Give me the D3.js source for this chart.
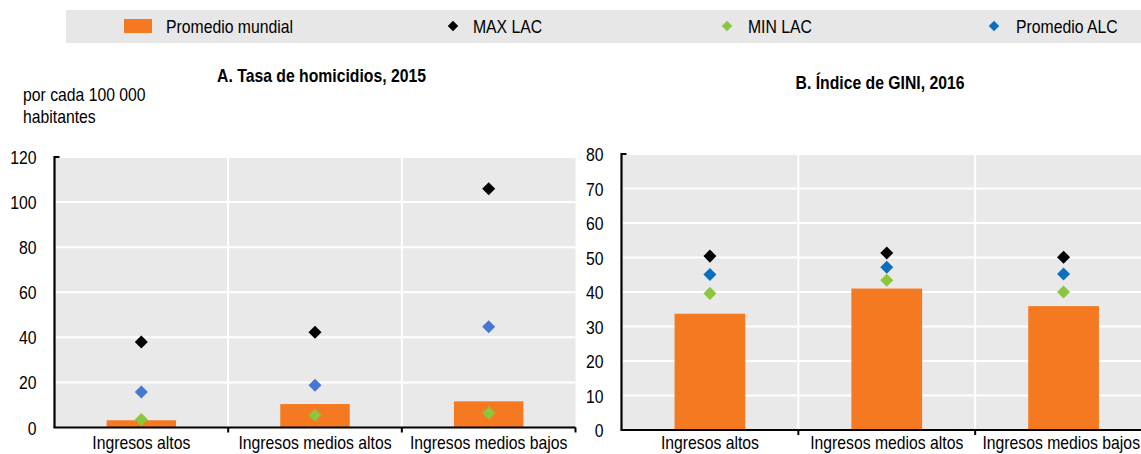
<!DOCTYPE html>
<html>
<head>
<meta charset="utf-8">
<script src="https://cdn.jsdelivr.net/npm/d3@7"></script>
<style>
  html, body { margin: 0; padding: 0; background: #fff; }
  svg { display: block; }
  text { font-family: "Liberation Sans", Arial, sans-serif; fill: #000; }
</style>
</head>
<body>
<script>
// ---- Data ----
const categories = ["Ingresos altos", "Ingresos medios altos", "Ingresos medios bajos"];
const seriesNames = ["Promedio mundial", "MAX LAC", "MIN LAC", "Promedio ALC"];

const homPromMundial = [3.2, 10.4, 11.6];
const homMax = [37.9, 42.3, 105.9];
const homMin = [3.6, 5.4, 6.4];
const homALC = [15.8, 18.7, 44.7];
const homTicks = [0, 20, 40, 60, 80, 100, 120];

const giniPromMundial = [33.7, 41.0, 35.9];
const giniMax = [50.4, 51.3, 50.1];
const giniMin = [39.6, 43.4, 40.0];
const giniALC = [45.1, 47.2, 45.2];
const giniTicks = [0, 10, 20, 30, 40, 50, 60, 70, 80];

const titleA = "A. Tasa de homicidios, 2015";
const titleB = "B. Índice de GINI, 2016";
const unitA = ["por cada 100 000", "habitantes"];

// ---- Styles ----
const W = 1141, H = 454;
const FS = 19, SX = 0.83; // narrow look: horizontally condensed text
const cOrange = "#F47920", cBlack = "#000000", cGreen = "#8CC63F", cBlue = "#0B6FBF", cBlueA = "#4778D0";
const plotBg = "#E9E9E9", legendBg = "#E7E7E7";

const svg = d3.select("body").append("svg").attr("width", W).attr("height", H);

function ntext(parent, x, y, str, anchor, bold) {
  const t = parent.append("text")
    .attr("transform", `translate(${x},${y}) scale(${SX},1)`)
    .attr("text-anchor", anchor || "start")
    .attr("font-size", FS)
    .attr("font-weight", bold ? "bold" : null)
    .text(str);
  if (anchor === "middle") {
    const w = t.node().getComputedTextLength() * SX;
    const over = x + w / 2 - (W - 1);
    if (over > 0) t.attr("transform", `translate(${x - over},${y}) scale(${SX},1)`);
  }
  return t;
}

// ---- Legend ----
svg.append("rect").attr("x", 66).attr("y", 10).attr("width", W - 66).attr("height", 33).attr("fill", legendBg);
const legendItems = [
  { name: seriesNames[0], type: "rect", color: cOrange, mx: 138, tx: 166 },
  { name: seriesNames[1], type: "diamond", color: cBlack, mx: 453, tx: 473 },
  { name: seriesNames[2], type: "diamond", color: cGreen, mx: 727, tx: 748 },
  { name: seriesNames[3], type: "diamond", color: cBlue, mx: 994, tx: 1016 }
];
const lg = svg.append("g");
legendItems.forEach(d => {
  if (d.type === "rect") {
    lg.append("rect").attr("x", d.mx - 14).attr("y", 19).attr("width", 28).attr("height", 14).attr("fill", d.color);
  } else {
    lg.append("rect").attr("x", -3.7).attr("y", -3.7).attr("width", 7.4).attr("height", 7.4)
      .attr("transform", `translate(${d.mx},26) rotate(45)`).attr("fill", d.color);
  }
  ntext(lg, d.tx, 33, d.name);
});

// ---- Panel builder ----
function panel(opts) {
  const { x0, x1, yTop, yBot, domainMax, ticks, bars, maxV, minV, alcV, alcColor, labelY } = opts;
  const g = svg.append("g");
  const x = d3.scaleBand().domain(categories).range([x0, x1]).paddingInner(0).paddingOuter(0);
  const y = d3.scaleLinear().domain([0, domainMax]).range([yBot, yTop]);

  g.append("rect").attr("x", x0).attr("y", yTop).attr("width", x1 - x0).attr("height", yBot - yTop).attr("fill", plotBg);

  g.selectAll(".hg").data(ticks.filter(t => t > 0)).join("line")
    .attr("x1", x0).attr("x2", x1).attr("y1", d => y(d)).attr("y2", d => y(d))
    .attr("stroke", "#fff").attr("stroke-width", 2);
  g.selectAll(".vg").data(categories.slice(1)).join("line")
    .attr("x1", d => x(d)).attr("x2", d => x(d)).attr("y1", yTop).attr("y2", yBot)
    .attr("stroke", "#fff").attr("stroke-width", 2);

  const bw = x.bandwidth() * 0.4;
  g.selectAll(".bar").data(bars).join("rect")
    .attr("x", (d, i) => x(categories[i]) + x.bandwidth() / 2 - bw / 2)
    .attr("width", bw)
    .attr("y", d => y(d))
    .attr("height", d => y(0) - y(d))
    .attr("fill", cOrange);

  const side = 9.2;
  function diamonds(vals, color) {
    g.selectAll(null).data(vals).join("rect")
      .attr("x", -side / 2).attr("y", -side / 2).attr("width", side).attr("height", side)
      .attr("transform", (d, i) => `translate(${x(categories[i]) + x.bandwidth() / 2},${y(d)}) rotate(45)`)
      .attr("fill", color);
  }
  diamonds(maxV, cBlack);
  diamonds(alcV, alcColor);
  diamonds(minV, cGreen);

  const ya = d3.axisLeft(y).tickValues(ticks).tickSize(0).tickPadding(18).tickFormat(d3.format("d"));
  const yg = g.append("g").attr("transform", `translate(${x0},0)`).call(ya);
  yg.select(".domain").remove();
  yg.selectAll(".tick text")
    .attr("font-size", FS).attr("font-family", null).attr("fill", "#000")
    .attr("x", null).attr("dy", null)
    .attr("transform", `translate(-18,6.5) scale(${SX},1)`);

  g.append("line").attr("x1", x0).attr("x2", x0).attr("y1", yTop - 1).attr("y2", yBot)
    .attr("stroke", "#000").attr("stroke-width", 2.2);
  g.append("line").attr("x1", x0).attr("x2", x0 + 5).attr("y1", yTop).attr("y2", yTop)
    .attr("stroke", "#000").attr("stroke-width", 2);
  g.append("line").attr("x1", x0 - 1).attr("x2", x1).attr("y1", yBot).attr("y2", yBot)
    .attr("stroke", "#000").attr("stroke-width", 2.2);
  const sepPos = categories.slice(1).map(c => x(c)).concat([x1]);
  g.selectAll(".xt").data(sepPos).join("line")
    .attr("x1", d => d).attr("x2", d => d).attr("y1", yBot).attr("y2", yBot + 5)
    .attr("stroke", "#000").attr("stroke-width", 2);

  categories.forEach(c => ntext(g, x(c) + x.bandwidth() / 2, labelY, c, "middle"));
  return g;
}

panel({ x0: 54.5, x1: 575.5, yTop: 157, yBot: 427.5, domainMax: 120, ticks: homTicks,
  bars: homPromMundial, maxV: homMax, minV: homMin, alcV: homALC, alcColor: cBlueA, labelY: 449 });
panel({ x0: 621.5, x1: 1152, yTop: 154, yBot: 430, domainMax: 80, ticks: giniTicks,
  bars: giniPromMundial, maxV: giniMax, minV: giniMin, alcV: giniALC, alcColor: cBlue, labelY: 449 });

ntext(svg, 321.5, 82, titleA, "middle", true);
ntext(svg, 880, 89, titleB, "middle", true);
ntext(svg, 23, 101, unitA[0]);
ntext(svg, 23, 123, unitA[1]);
</script>
</body>
</html>
